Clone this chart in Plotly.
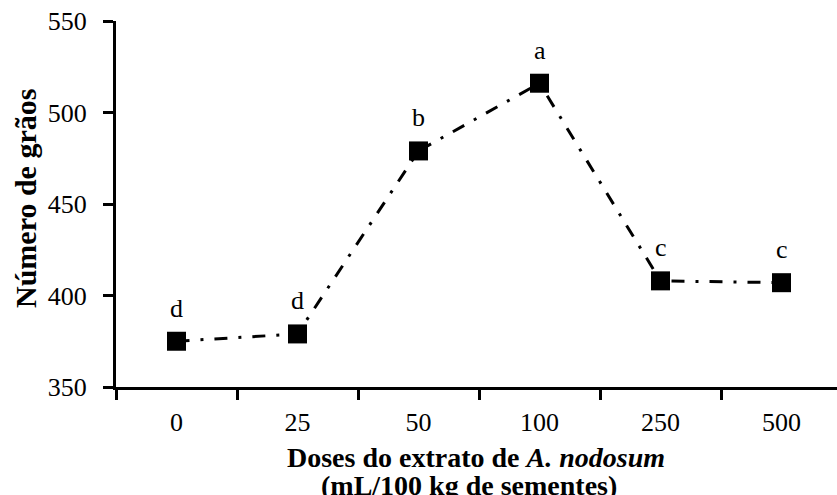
import plotly.graph_objects as go

categories = ["0", "25", "50", "100", "250", "500"]
values = [375, 379, 479, 516, 408, 407]
letters = ["d", "d", "b", "a", "c", "c"]
y_ticks = [350, 400, 450, 500, 550]

FONT = "Liberation Serif, Times New Roman, serif"
W, H = 837, 495
L, R, T, B = 116, 0, 21, 108
plot_w = W - L - R
plot_h = H - T - B

def px_x(px):
    return (px - L) / plot_w

def px_y(py):
    return (H - B - py) / plot_h

fig = go.Figure()
fig.add_trace(go.Scatter(
    x=categories, y=values, mode="lines+markers",
    line=dict(color="black", width=3, dash="13px,11px,3px,11px"),
    marker=dict(symbol="square", size=19, color="black", line=dict(width=0)),
    showlegend=False, cliponaxis=False,
))

annotations = []
for i, (v, t) in enumerate(zip(values, letters)):
    annotations.append(dict(x=i, y=v, xref="x", yref="y", text=t, showarrow=False,
                            yshift=33, font=dict(family=FONT, size=26, color="black")))

annotations.append(dict(x=px_x(25), y=px_y(199), xref="paper", yref="paper",
                        text="<b>Número de grãos</b>", textangle=-90, showarrow=False,
                        xanchor="center", yanchor="middle",
                        font=dict(family=FONT, size=30, color="black")))
annotations.append(dict(x=px_x(476), y=px_y(457), xref="paper", yref="paper",
                        text="<b>Doses do extrato de <i>A. nodosum</i></b>", showarrow=False,
                        xanchor="center", yanchor="middle",
                        font=dict(family=FONT, size=28, color="black")))
annotations.append(dict(x=px_x(469), y=px_y(485), xref="paper", yref="paper",
                        text="<b>(mL/100 kg de sementes)</b>", showarrow=False,
                        xanchor="center", yanchor="middle",
                        font=dict(family=FONT, size=28, color="black")))

fig.update_layout(
    width=W, height=H,
    margin=dict(l=L, r=R, t=T, b=B, pad=0),
    paper_bgcolor="white", plot_bgcolor="white",
    annotations=annotations,
    xaxis=dict(type="category", categoryorder="array", categoryarray=categories,
               range=[-0.5, -0.5 + plot_w / 121.0],
               showline=True, linecolor="black", linewidth=3,
               ticks="outside", tickson="boundaries", ticklen=10, tickwidth=3, tickcolor="black",
               showgrid=False, zeroline=False, ticklabelstandoff=10,
               tickfont=dict(family=FONT, size=26, color="black")),
    yaxis=dict(range=[350, 550], tickvals=y_ticks, ticktext=[str(v) for v in y_ticks],
               showline=True, linecolor="black", linewidth=3,
               ticks="outside", ticklen=10, tickwidth=3, tickcolor="black",
               showgrid=False, zeroline=False, ticklabelstandoff=11,
               tickfont=dict(family=FONT, size=26, color="black")),
)

fig.write_html("out.html")
